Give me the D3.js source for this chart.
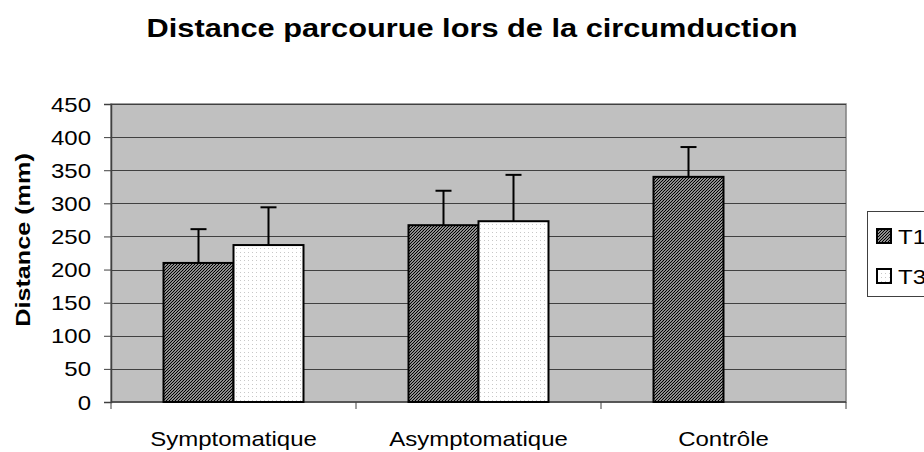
<!DOCTYPE html>
<html>
<head>
    <meta charset="utf-8">
    <title>Distance parcourue lors de la circumduction</title>
    <script type="text/javascript" src="https://cdn.jsdelivr.net/npm/d3@7"></script>
    <style type="text/css">
        body {
            margin: 0;
            background: #fff;
        }

        svg text {
            font-family: Arial, "Liberation Sans", sans-serif;
            fill: #000;
        }
    </style>
</head>

<body>

<svg></svg>

<script type="text/javascript">
    var categories = ["Symptomatique", "Asymptomatique", "Contrôle"];
    var series = ["T1", "T3"];
    var meansT1 = [210, 267, 340];
    var meansT3 = [237, 273, null];
    var errorsT1 = [51, 52, 45];
    var errorsT3 = [57, 70, null];
    var yTicks = [0, 50, 100, 150, 200, 250, 300, 350, 400, 450];

    // note: "top" is taken by window.top, so plot edges get their own names
    var w = 924, h = 452,
        plotL = 111, plotR = 846, plotT = 104, plotB = 402,
        stretch = 1.2; // text in the source is wider than Arial

    var svg = d3.select("svg")
        .attr("width", w)
        .attr("height", h);

    var defs = svg.append("defs");

    var hatch = defs.append("pattern")
        .attr("id", "hatch")
        .attr("patternUnits", "userSpaceOnUse")
        .attr("width", 3)
        .attr("height", 3);
    hatch.append("rect").attr("width", 3).attr("height", 3).attr("fill", "#fff");
    hatch.append("path")
        .attr("d", "M-1,1 L1,-1 M0,3 L3,0 M2,4 L4,2")
        .attr("stroke", "#000")
        .attr("stroke-width", 1.3);

    var dots = defs.append("pattern")
        .attr("id", "dots")
        .attr("patternUnits", "userSpaceOnUse")
        .attr("width", 4)
        .attr("height", 4);
    dots.append("rect").attr("width", 4).attr("height", 4).attr("fill", "#fff");
    dots.append("rect").attr("width", 1).attr("height", 1).attr("fill", "#c8c8c8");

    var fills = {T1: "url(#hatch)", T3: "url(#dots)"};

    var x = d3.scaleBand()
        .domain(categories)
        .range([plotL, plotR])
        .paddingInner(0.4286)
        .paddingOuter(0.2143);

    var xs = d3.scaleBand()
        .domain(series)
        .range([0, x.bandwidth()]);

    var y = d3.scaleLinear()
        .domain([0, 450])
        .range([plotB, plotT]);

    // plot area
    svg.append("rect")
        .attr("x", plotL)
        .attr("y", plotT)
        .attr("width", plotR - plotL)
        .attr("height", plotB - plotT)
        .attr("fill", "#c0c0c0")
        .attr("stroke", "#808080")
        .attr("stroke-width", 1.5);

    // gridlines
    svg.append("g")
        .selectAll("line")
        .data(yTicks.slice(1))
        .enter().append("line")
        .attr("x1", plotL)
        .attr("x2", plotR)
        .attr("y1", function(d){return Math.round(y(d)) + 0.5;})
        .attr("y2", function(d){return Math.round(y(d)) + 0.5;})
        .attr("stroke", "#404040")
        .attr("stroke-width", 1);

    // y axis
    var yAxis = svg.append("g")
        .attr("transform", "translate(" + plotL + ",0)")
        .call(d3.axisLeft(y).tickValues(yTicks).tickSize(7).tickPadding(0));
    yAxis.select(".domain").attr("stroke", "#404040").attr("stroke-width", 1.5);
    yAxis.selectAll(".tick line").attr("stroke", "#404040");
    yAxis.selectAll(".tick text")
        .attr("x", null).attr("dy", null)
        .attr("font-size", 20)
        .attr("transform", "translate(-20,7) scale(" + stretch + ",1)")
        .style("text-anchor", "end");

    // x axis
    var boundaries = categories.map(function(c){return x(c) - x.step() * x.paddingOuter();});
    boundaries.push(plotR);
    var xAxis = svg.append("g");
    xAxis.append("line")
        .attr("x1", plotL).attr("x2", plotR)
        .attr("y1", plotB).attr("y2", plotB)
        .attr("stroke", "#404040")
        .attr("stroke-width", 1.5);
    xAxis.selectAll(".xtick")
        .data(boundaries)
        .enter().append("line")
        .attr("class", "xtick")
        .attr("x1", function(d){return d;})
        .attr("x2", function(d){return d;})
        .attr("y1", plotB)
        .attr("y2", plotB + 7)
        .attr("stroke", "#404040");
    xAxis.selectAll(".xlabel")
        .data(categories)
        .enter().append("text")
        .attr("class", "xlabel")
        .attr("font-size", 20)
        .attr("text-anchor", "middle")
        .attr("transform", function(d){
            return "translate(" + (x(d) + x.bandwidth() / 2) + ",446) scale(" + stretch + ",1)";
        })
        .text(function(d){return d;});

    // bars
    var rows = [];
    categories.forEach(function(c, i){
        rows.push({cat: c, s: "T1", v: meansT1[i], e: errorsT1[i]});
        rows.push({cat: c, s: "T3", v: meansT3[i], e: errorsT3[i]});
    });
    rows = rows.filter(function(d){return d.v !== null;});

    var bars = svg.append("g");
    bars.selectAll("rect")
        .data(rows)
        .enter().append("rect")
        .attr("x", function(d){return x(d.cat) + xs(d.s);})
        .attr("y", function(d){return y(d.v);})
        .attr("width", xs.bandwidth())
        .attr("height", function(d){return plotB - y(d.v);})
        .attr("fill", function(d){return fills[d.s];})
        .attr("stroke", "#000")
        .attr("stroke-width", 2);

    // error bars
    var err = svg.append("g").attr("stroke", "#000").attr("stroke-width", 2);
    err.selectAll(".stem")
        .data(rows)
        .enter().append("line")
        .attr("x1", function(d){return x(d.cat) + xs(d.s) + xs.bandwidth() / 2;})
        .attr("x2", function(d){return x(d.cat) + xs(d.s) + xs.bandwidth() / 2;})
        .attr("y1", function(d){return y(d.v);})
        .attr("y2", function(d){return y(d.v + d.e);});
    err.selectAll(".cap")
        .data(rows)
        .enter().append("line")
        .attr("x1", function(d){return x(d.cat) + xs(d.s) + xs.bandwidth() / 2 - 8;})
        .attr("x2", function(d){return x(d.cat) + xs(d.s) + xs.bandwidth() / 2 + 8;})
        .attr("y1", function(d){return y(d.v + d.e);})
        .attr("y2", function(d){return y(d.v + d.e);});

    // title
    svg.append("text")
        .attr("font-size", 25)
        .attr("font-weight", "bold")
        .attr("text-anchor", "middle")
        .attr("transform", "translate(472,37) scale(" + (stretch + 0.03) + ",1)")
        .text("Distance parcourue lors de la circumduction");

    // y axis title
    svg.append("text")
        .attr("font-size", 21)
        .attr("font-weight", "bold")
        .attr("text-anchor", "middle")
        .attr("transform", "translate(30,240) rotate(-90) scale(" + stretch + ",1)")
        .text("Distance (mm)");

    // legend
    var legend = svg.append("g");
    legend.append("rect")
        .attr("x", 867.5)
        .attr("y", 211.5)
        .attr("width", 80)
        .attr("height", 85)
        .attr("fill", "#fff")
        .attr("stroke", "#404040")
        .attr("stroke-width", 1);
    var items = legend.selectAll(".item")
        .data(series)
        .enter().append("g")
        .attr("class", "item")
        .attr("transform", function(d, i){return "translate(877," + (229 + i * 40) + ")";});
    items.append("rect")
        .attr("width", 14)
        .attr("height", 14)
        .attr("fill", function(d){return fills[d];})
        .attr("stroke", "#000")
        .attr("stroke-width", 2);
    items.append("text")
        .attr("font-size", 20)
        .attr("transform", "translate(21,15) scale(" + stretch + ",1)")
        .text(function(d){return d;});
</script>

</body>
</html>
